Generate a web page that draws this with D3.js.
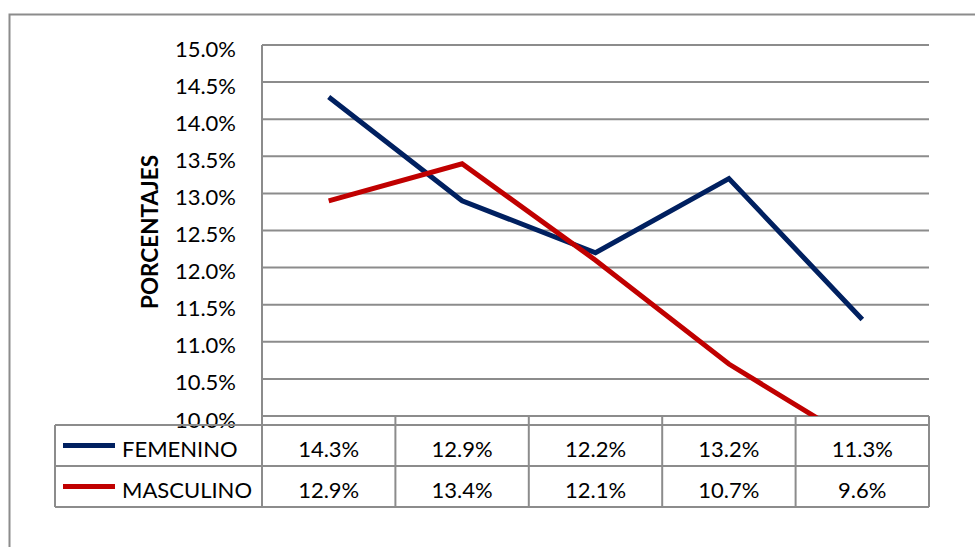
<!DOCTYPE html>
<html><head><meta charset="utf-8">
<script src="https://cdn.jsdelivr.net/npm/d3@7"></script>
<style>body{margin:0;background:#fff}svg{display:block}</style>
</head><body>
<svg id="c" width="975" height="547"></svg>
<script>
const categories = ["C1","C2","C3","C4","C5"];
const femenino = [14.3, 12.9, 12.2, 13.2, 11.3];
const masculino = [12.9, 13.4, 12.1, 10.7, 9.6];
const seriesNames = ["FEMENINO","MASCULINO"];
const seriesColors = ["#002060","#C00000"];
const yTicks = [10,10.5,11,11.5,12,12.5,13,13.5,14,14.5,15];
const yTitle = "PORCENTAJES";

const svg = d3.select("#c");
const FONT = "Lato, 'Open Sans', sans-serif";
const gray = "#8c8c8c";

// outer frame
svg.append("path").attr("d","M9.5,560 V14.5 H990").attr("fill","none").attr("stroke",gray).attr("stroke-width",2);

const L = 262, R = 929, T = 45, B = 416;
const x = d3.scaleBand().domain(categories).range([L,R]);
const y = d3.scaleLinear().domain([10,15]).range([B,T]);

// gridlines
svg.append("g").selectAll("line").data(yTicks).join("line")
  .attr("x1",L).attr("x2",R).attr("y1",d=>y(d)).attr("y2",d=>y(d))
  .attr("stroke",gray).attr("stroke-width",2);

// y axis
const yAxis = d3.axisLeft(y).tickValues(yTicks).tickSize(0).tickPadding(26)
  .tickFormat(d=>d3.format(".1f")(d)+"%");
const ya = svg.append("g").attr("transform",`translate(${L},0)`).call(yAxis);
ya.select(".domain").remove();
ya.selectAll("text").attr("font-family",FONT).attr("font-size",22).attr("fill","#000").attr("dy",null).attr("y",11);
svg.append("line").attr("x1",L).attr("x2",L).attr("y1",T).attr("y2",425).attr("stroke",gray).attr("stroke-width",2);

// title
svg.append("text").attr("transform","translate(158,232) rotate(-90)")
  .attr("text-anchor","middle").attr("font-family",FONT).attr("font-weight","bold")
  .attr("font-size",22.5).text(yTitle);

// data table
const rowH = 41, tTop = 425, tLeft = 55;
const rows = [femenino, masculino];
const tg = svg.append("g");
const bounds = categories.map(c=>x(c)).concat([R]);
tg.selectAll("line.v").data(bounds).join("line").attr("class","v")
  .attr("x1",d=>d).attr("x2",d=>d).attr("y1",B).attr("y2",tTop+2*rowH)
  .attr("stroke",gray).attr("stroke-width",2);
[tTop, tTop+rowH, tTop+2*rowH].forEach(yy=>{
  tg.append("line").attr("x1",tLeft).attr("x2",R).attr("y1",yy).attr("y2",yy).attr("stroke",gray).attr("stroke-width",2);
});
tg.append("line").attr("x1",tLeft).attr("x2",tLeft).attr("y1",tTop).attr("y2",tTop+2*rowH).attr("stroke",gray).attr("stroke-width",2);
rows.forEach((vals,i)=>{
  const cy = tTop + rowH*i + rowH/2;
  tg.append("line").attr("x1",63).attr("x2",115).attr("y1",cy).attr("y2",cy)
    .attr("stroke",seriesColors[i]).attr("stroke-width",5);
  tg.append("text").attr("x",122).attr("y",cy+11).attr("font-family",FONT)
    .attr("font-size",22).text(seriesNames[i]);
  tg.selectAll(null).data(vals).join("text")
    .attr("x",(d,j)=>x(categories[j])+x.bandwidth()/2).attr("y",cy+11)
    .attr("text-anchor","middle").attr("font-family",FONT).attr("font-size",22)
    .text(d=>d.toFixed(1)+"%");
});
svg.append("line").attr("x1",L).attr("x2",R).attr("y1",B).attr("y2",B).attr("stroke",gray).attr("stroke-width",2);

// lines
svg.append("clipPath").attr("id","clip").append("rect").attr("x",L).attr("y",T-10).attr("width",R-L).attr("height",B-T+10);
const line = d3.line().x((d,i)=>x(categories[i])+x.bandwidth()/2).y(d=>y(d));
svg.append("g").attr("clip-path","url(#clip)").selectAll("path").data(rows).join("path")
  .attr("d",line).attr("fill","none").attr("stroke",(d,i)=>seriesColors[i]).attr("stroke-width",5);
</script>
</body></html>
